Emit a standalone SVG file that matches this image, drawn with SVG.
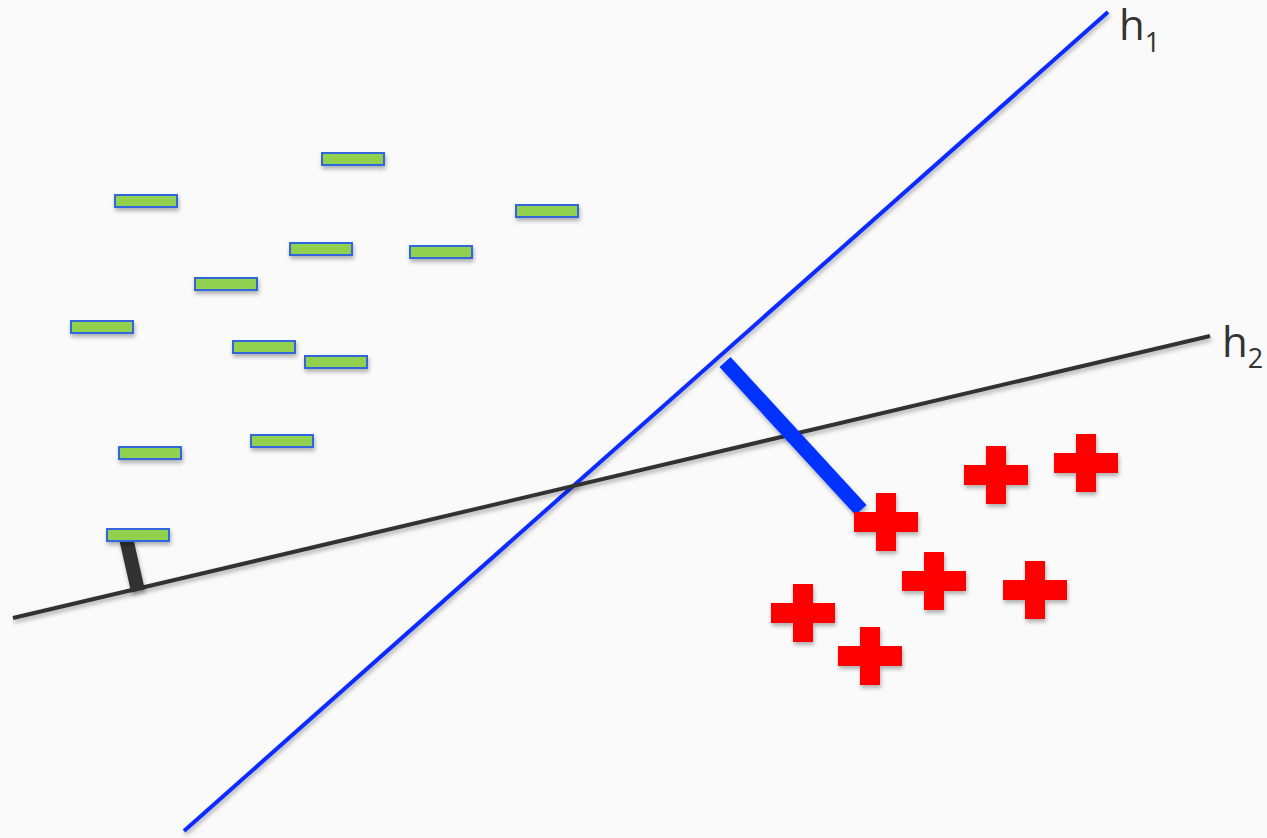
<svg xmlns="http://www.w3.org/2000/svg" xmlns:xlink="http://www.w3.org/1999/xlink" width="1267" height="838" viewBox="0 0 1267 838">
<defs>
<filter id="sh" filterUnits="userSpaceOnUse" x="0" y="0" width="1267" height="838">
<feDropShadow dx="1" dy="3" stdDeviation="2" flood-color="#000" flood-opacity="0.3"/>
</filter>
<rect id="neg" x="0" y="0" width="62" height="12" class="neg"/>
<path id="pos" d="M-10,-29 H10 V-10 H32 V10 H10 V29 H-10 V10 H-32 V-10 H-10 Z" class="pos"/>
</defs>
<style>
.neg{fill:#92d050;stroke:#3366dd;stroke-width:2}
.pos{fill:#ff0000}
.lbl{font-family:"Open Sans","Liberation Sans",sans-serif;fill:#333333}
</style>
<rect width="1267" height="838" fill="#fafafa"/>
<g id="connectors">
<line id="h1" x1="184" y1="831" x2="1108" y2="12" stroke="#0a2bff" stroke-width="4" filter="url(#sh)"/>
<line id="h2" x1="13" y1="618" x2="1210" y2="336" stroke="#333333" stroke-width="4" filter="url(#sh)"/>
<line id="margin2" x1="126" y1="538" x2="138" y2="591" stroke="#333333" stroke-width="14" filter="url(#sh)"/>
<line id="margin1" x1="725" y1="362" x2="861" y2="510" stroke="#0033ff" stroke-width="15" filter="url(#sh)"/>
</g>
<g id="negatives" filter="url(#sh)">
<use id="n1" xlink:href="#neg" x="322" y="153"/>
<use id="n2" xlink:href="#neg" x="115" y="195"/>
<use id="n3" xlink:href="#neg" x="516" y="205"/>
<use id="n4" xlink:href="#neg" x="290" y="243"/>
<use id="n5" xlink:href="#neg" x="410" y="246"/>
<use id="n6" xlink:href="#neg" x="195" y="278"/>
<use id="n7" xlink:href="#neg" x="71" y="321"/>
<use id="n8" xlink:href="#neg" x="233" y="341"/>
<use id="n9" xlink:href="#neg" x="305" y="356"/>
<use id="n10" xlink:href="#neg" x="119" y="447"/>
<use id="n11" xlink:href="#neg" x="251" y="435"/>
<use id="n12" xlink:href="#neg" x="107" y="529"/>
</g>
<g id="positives" filter="url(#sh)">
<use id="p1" xlink:href="#pos" x="886" y="522"/>
<use id="p2" xlink:href="#pos" x="996" y="475"/>
<use id="p3" xlink:href="#pos" x="1086" y="463"/>
<use id="p4" xlink:href="#pos" x="934" y="581"/>
<use id="p5" xlink:href="#pos" x="1035" y="590"/>
<use id="p6" xlink:href="#pos" x="803" y="613"/>
<use id="p7" xlink:href="#pos" x="870" y="656"/>
</g>
<g id="label-h1">
<text class="lbl" x="1119" y="40" font-size="42">h<tspan font-size="27" dy="12">1</tspan></text>
</g>
<g id="label-h2">
<text class="lbl" x="1222" y="357" font-size="42">h<tspan font-size="27" dy="11">2</tspan></text>
</g>
</svg>
